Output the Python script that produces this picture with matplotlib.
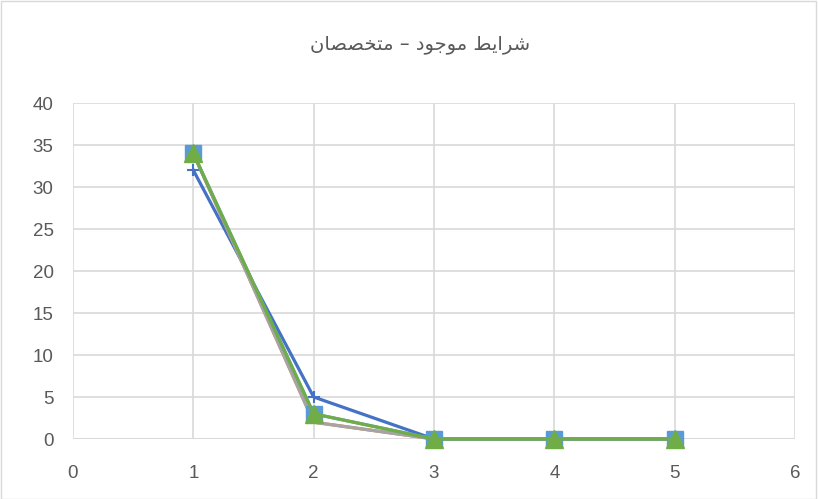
import matplotlib
matplotlib.use("Agg")
import matplotlib.pyplot as plt

# Data
x_vals = [1, 2, 3, 4, 5]
series_blue = [32, 5, 0, 0, 0]
series_orange = [34, 2, 0, 0, 0]
series_gray = [34, 2, 0, 0, 0]
series_lightblue = [34, 3, 0, 0, 0]
series_green = [34, 3, 0, 0, 0]
x_ticks = [0, 1, 2, 3, 4, 5, 6]
y_ticks = [0, 5, 10, 15, 20, 25, 30, 35, 40]

# Title "شرایط موجود – متخصصان" in Arabic presentation forms (logical order), reversed for display
title_logical = ("\uFEB7\uFEAE\uFE8D\uFBFE\uFEC2" + " " +
                 "\uFEE3\uFEEE\uFE9F\uFEEE\uFEA9" + " \u2013 " +
                 "\uFEE3\uFE98\uFEA8\uFEBC\uFEBC\uFE8E\uFEE5")
title_text = title_logical[::-1]

fig = plt.figure(figsize=(8.18, 4.99), dpi=100)
ax = fig.add_axes([73/818, 1-439/499, (795-73)/818, (439-103)/499])

lw = 2.3
ax.plot(x_vals, series_blue, color="#4472C4", lw=lw, marker="+", ms=9, mew=1.5, zorder=3, clip_on=False)
ax.plot(x_vals, series_orange, color="#ED7D31", lw=lw, zorder=3, clip_on=False)
ax.plot(x_vals, series_gray, color="#A5A5A5", lw=lw, zorder=3, clip_on=False)
ax.plot(x_vals, series_lightblue, color="#5B9BD5", lw=lw, marker="s", ms=11.5, zorder=4, clip_on=False)
ax.plot(x_vals, series_green, color="#70AD47", lw=lw, marker="^", ms=13, zorder=5, clip_on=False)

ax.set_xlim(0, 6)
ax.set_ylim(0, 40)
ax.set_xticks(x_ticks)
ax.set_yticks(y_ticks)
ax.grid(True, color="#D9D9D9", lw=1.2)
ax.set_axisbelow(True)
for s in ax.spines.values():
    s.set_visible(False)
ax.axhline(0, color="#D9D9D9", lw=1.4, zorder=1)
ax.tick_params(length=0, labelsize=13.5, colors="#595959")
ax.tick_params(axis="x", pad=19)
ax.tick_params(axis="y", pad=14)
for lab in ax.get_xticklabels() + ax.get_yticklabels():
    lab.set_fontfamily("Liberation Sans")

fig.text(420/818, 1-45/499, title_text, ha="center", va="center", fontsize=14,
         color="#595959", family=["DejaVu Sans"])

border = plt.Rectangle((0.001, 0.001), 0.997, 0.997, transform=fig.transFigure,
                       fill=False, edgecolor="#D9D9D9", lw=1)
fig.patches.append(border)

fig.savefig("out.png", dpi=100)
